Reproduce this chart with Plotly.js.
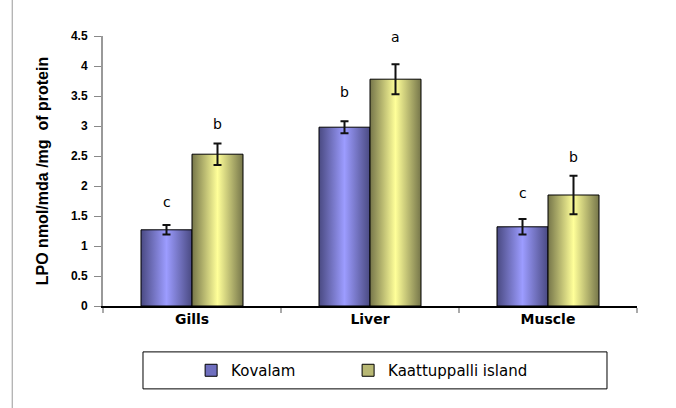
<!DOCTYPE html>
<html>
<head>
<meta charset="utf-8">
<script src="https://cdn.plot.ly/plotly-3.0.1.min.js"></script>
<style>
html,body{margin:0;padding:0;background:#fff;}
#chart{width:676px;height:408px;}
</style>
</head>
<body>
<div id="chart"></div>
<script>
const categories = ["Gills", "Liver", "Muscle"];
const kovalam = [1.27, 2.98, 1.32];
const kovalamErr = [0.08, 0.10, 0.13];
const kaattuppalli = [2.53, 3.78, 1.85];
const kaattuppalliErr = [0.18, 0.25, 0.32];
const kovalamLetters = ["c", "b", "c"];
const kovalamLetterY = [1.74, 3.57, 1.88];
const kaattuppalliLetters = ["b", "a", "b"];
const kaattuppalliLetterY = [3.03, 4.48, 2.48];
const yTicks = [0, 0.5, 1, 1.5, 2, 2.5, 3, 3.5, 4, 4.5];
const yTickText = ["0", "0.5", "1", "1.5", "2", "2.5", "3", "3.5", "4", "4.5"];

const FONT = "Liberation Sans, Arial, sans-serif";
const WIDE = "DejaVu Sans, Verdana, sans-serif";

const traces = [
  {
    type: "bar", name: "Kovalam", x: categories, y: kovalam, legend: "legend",
    marker: {color: "#6f6fbf", line: {color: "#000", width: 1}},
    error_y: {type: "data", array: kovalamErr, visible: true, color: "#111", thickness: 2, width: 4}
  },
  {
    type: "bar", name: "Kaattuppalli island", x: categories, y: kaattuppalli, legend: "legend2",
    marker: {color: "#b8b874", line: {color: "#000", width: 1}},
    error_y: {type: "data", array: kaattuppalliErr, visible: true, color: "#111", thickness: 2, width: 4}
  }
];

const annotations = [];
categories.forEach((c, i) => {
  annotations.push({x: c, y: kovalamLetterY[i], text: kovalamLetters[i], showarrow: false,
    xshift: -25.5, yanchor: "middle", font: {family: WIDE, size: 14, color: "#000"}});
  annotations.push({x: c, y: kaattuppalliLetterY[i], text: kaattuppalliLetters[i], showarrow: false,
    xshift: 25.5, yanchor: "middle", font: {family: WIDE, size: 14, color: "#000"}});
});

const legendBase = {
  orientation: "h", xanchor: "left", y: -0.239, yanchor: "middle",
  font: {family: WIDE, size: 15, color: "#000"},
  bgcolor: "rgba(0,0,0,0)", borderwidth: 0
};

const layout = {
  width: 676, height: 408,
  margin: {l: 103, r: 39, t: 36, b: 102},
  paper_bgcolor: "#fff", plot_bgcolor: "#fff",
  font: {family: FONT, color: "#000"},
  barmode: "group", bargap: 0.427, bargroupgap: 0,
  showlegend: true,
  legend: Object.assign({}, legendBase, {x: 0.165}),
  legend2: Object.assign({}, legendBase, {x: 0.459}),
  xaxis: {
    type: "category", showgrid: false, zeroline: false,
    showline: true, linecolor: "#000", linewidth: 1.5,
    ticks: "outside", tickson: "boundaries", ticklen: 5, tickcolor: "#aaa", tickwidth: 2,
    tickfont: {family: WIDE, size: 14, color: "#000", weight: "bold"},
    fixedrange: true
  },
  yaxis: {
    range: [0, 4.5], tickvals: yTicks, ticktext: yTickText,
    showgrid: false, zeroline: false,
    showline: true, linecolor: "#999", linewidth: 2,
    ticks: "outside", ticklen: 7, tickcolor: "#888", tickwidth: 1,
    ticklabelstandoff: 4,
    tickfont: {family: FONT, size: 12, color: "#000", weight: "bold"},
    title: {text: "LPO nmol/mda /mg  of protein", standoff: 18,
      font: {family: FONT, size: 16, color: "#000", weight: "bold"}},
    fixedrange: true
  },
  annotations: annotations,
  shapes: [
    {type: "rect", xref: "paper", yref: "paper", x0: 0.0749, x1: 0.9438, y0: -0.307, y1: -0.170,
      line: {color: "#000", width: 1}, fillcolor: "rgba(0,0,0,0)"},
    {type: "line", xref: "paper", yref: "paper", x0: -0.17, x1: -0.17, y0: -0.48, y1: 1.15,
      line: {color: "#999", width: 1}}
  ]
};

Plotly.newPlot("chart", traces, layout, {displayModeBar: false, staticPlot: true}).then(gd => {
  const ns = "http://www.w3.org/2000/svg";
  const svg = gd.querySelector("svg.main-svg");
  let defs = svg.querySelector("defs");
  if (!defs) { defs = document.createElementNS(ns, "defs"); svg.insertBefore(defs, svg.firstChild); }
  function grad(id, edge, center) {
    const g = document.createElementNS(ns, "linearGradient");
    g.setAttribute("id", id);
    g.setAttribute("x1", "0"); g.setAttribute("x2", "1"); g.setAttribute("y1", "0"); g.setAttribute("y2", "0");
    [[0, edge], [0.5, center], [1, edge]].forEach(([o, c]) => {
      const s = document.createElementNS(ns, "stop");
      s.setAttribute("offset", o); s.setAttribute("stop-color", c);
      g.appendChild(s);
    });
    defs.appendChild(g);
  }
  grad("gK", "#4a4a82", "#9c9cff");
  grad("gA", "#76764a", "#ffff99");
  const ids = ["gK", "gA"];
  gd.querySelectorAll(".barlayer .trace").forEach((t, i) => {
    t.querySelectorAll(".point path").forEach(p => { p.style.fill = "url(#" + ids[i] + ")"; });
  });
});
</script>
</body>
</html>
